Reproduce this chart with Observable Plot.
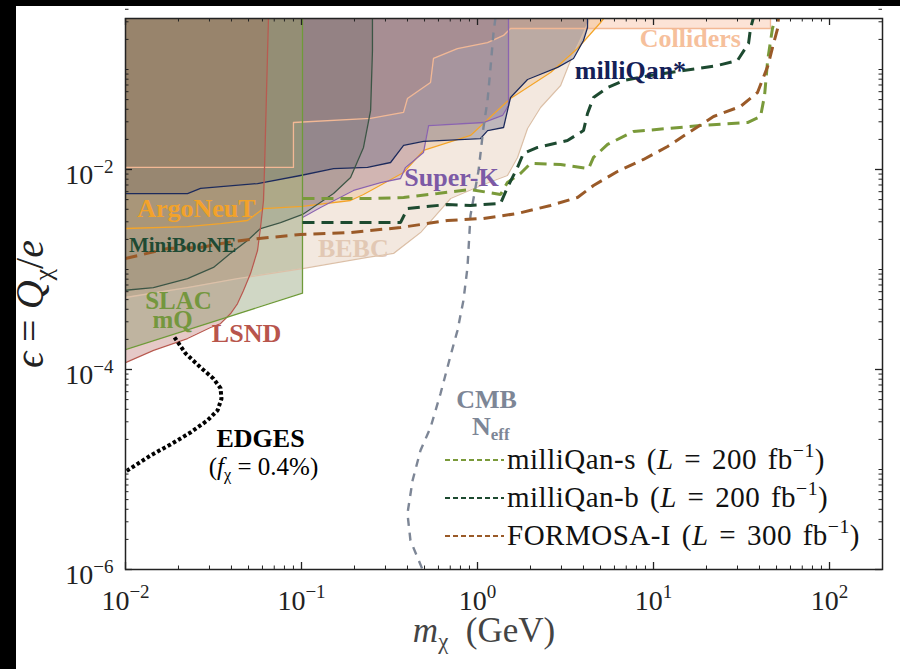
<!DOCTYPE html>
<html><head><meta charset="utf-8">
<script src="https://cdn.jsdelivr.net/npm/d3@7"></script>
<script src="https://cdn.jsdelivr.net/npm/@observablehq/plot@0.6"></script>
<style>
html,body{margin:0;padding:0;background:#000;width:900px;height:669px;overflow:hidden;}
#chart{position:absolute;left:16px;top:6px;width:884px;height:663px;background:#fff;}
svg text{font-family:"Liberation Serif",serif;}
</style></head><body><div id="chart"></div>
<script>
// ---------- data (m_chi in GeV, epsilon) ----------
const TOP = 0.34;
const colliders = [[0.01,0.0105],[0.090,0.0105],[0.090,0.0295],[0.2466,0.0324],[0.380,0.0372],[0.400,0.0513],[0.5408,0.0741],[0.5623,0.129],[0.7691,0.162],[1.14,0.186],[1.406,0.219],[1.54,0.257],[46.2,0.257],[46.2,TOP]];
const bebc = [[0.01,5.25e-4],[0.02249,6.6e-4],[0.04329,8.1e-4],[0.1013,1.02e-3],[0.2371,1.32e-3],[0.3334,1.45e-3],[0.4742,2.34e-3],[0.7031,5.13e-3],[1.081,7.08e-3],[1.479,8.71e-3],[1.687,0.0132],[1.923,0.0257],[2.28,0.0417],[2.965,0.0692],[3.374,0.123],[4.0,0.229],[4.385,TOP]];
const argoneut = [[0.01,0.00257],[0.02249,0.00269],[0.03467,0.00288],[0.04932,0.00309],[0.06081,0.00407],[0.1013,0.00427],[0.1898,0.0049],[0.2249,0.00562],[0.2924,0.00724],[0.38,0.00933],[0.4932,0.0155],[0.912,0.0219],[1.54,0.0513],[2.6,0.0933],[3.7,0.162],[5.0,0.295],[5.33,TOP]];
const superK = [[0.1013,0.00331],[0.1282,0.00417],[0.1974,0.00617],[0.2812,0.00741],[0.3652,0.00813],[0.3899,0.0105],[0.4932,0.0148],[0.5272,0.0275],[1.081,0.0295],[1.387,0.0347],[1.5,0.0437],[1.5,TOP]];
const milliqanDemo = [[0.01,0.00575],[0.02249,0.00575],[0.02668,0.00646],[0.05623,0.00724],[0.09863,0.00871],[0.152,0.0102],[0.2371,0.0105],[0.3206,0.01175],[0.38,0.0174],[0.4932,0.0191],[1.04,0.0204],[1.14,0.0245],[1.406,0.0263],[1.54,0.0525],[1.923,0.0794],[2.851,0.105],[3.51,0.129],[4.0,0.195],[4.217,0.263],[4.217,TOP]];
const miniboone = [[0.01,6.2e-4],[0.0144,6.6e-4],[0.0225,8.1e-4],[0.0316,1.05e-3],[0.0395,1.45e-3],[0.0493,1.95e-3],[0.0585,2.57e-3],[0.076,2.95e-3],[0.1014,3.55e-3],[0.152,5.75e-3],[0.19,8.3e-3],[0.225,0.0166],[0.247,0.039],[0.253,0.155],[0.253,TOP]];
const lsnd = [[0.01,1.17e-4],[0.01443,1.55e-4],[0.02249,2.04e-4],[0.0304,2.63e-4],[0.03467,2.88e-4],[0.03953,3.63e-4],[0.04329,4.57e-4],[0.0468,6.17e-4],[0.05129,9.1e-4],[0.05623,1.55e-3],[0.05848,2.63e-3],[0.06081,4.9e-3],[0.06166,0.0105],[0.06494,TOP]];
const slac = [[0.01,1.58e-4],[0.1013,5.8e-4],[0.1013,TOP]];

const milliqanS = [[0.1013,0.00513],[0.2466,0.00513],[0.38,0.00525],[0.5929,0.00575],[0.912,0.00631],[1.352,0.00562],[1.479,0.00741],[1.754,0.00912],[2.0,0.0115],[2.965,0.0112],[4.276,0.0102],[4.56,0.0132],[5.483,0.0178],[7.691,0.024],[12.02,0.0257],[18.49,0.0275],[34.2,0.0295],[40.55,0.0339],[42.76,0.055],[44.5,0.123],[47.4,0.257],[49.3,0.33]];
const milliqanB = [[0.1013,0.00295],[0.3652,0.00295],[0.4,0.00407],[0.6761,0.00447],[0.912,0.00437],[1.352,0.00457],[1.479,0.00661],[1.687,0.0105],[1.824,0.0145],[2.193,0.0166],[3.245,0.0195],[4.0,0.0245],[4.217,0.0363],[4.56,0.0525],[5.483,0.0661],[6.761,0.0776],[9.616,0.0871],[14.8,0.0977],[23.11,0.1096],[30.0,0.123],[34.67,0.182],[35.56,0.257],[36.98,0.33]];
const formosa = [[0.01,0.00129],[0.01733,0.00162],[0.02668,0.00166],[0.0411,0.00191],[0.05129,0.002],[0.09863,0.00224],[0.1898,0.00234],[0.3652,0.00263],[0.6761,0.00309],[1.081,0.00324],[1.687,0.00363],[2.6,0.00437],[3.7,0.00525],[4.56,0.00692],[6.237,0.00955],[8.77,0.0126],[12.02,0.017],[16.22,0.024],[21.93,0.0339],[31.19,0.0427],[39.0,0.0589],[44.5,0.107],[48.1,0.182],[50.7,0.257],[51.3,0.33]];
const cmb = [[1.265,0.33],[1.233,0.234],[1.186,0.105],[1.14,0.049],[1.081,0.0263],[1.014,0.00977],[0.912,0.00347],[0.877,0.00105],[0.8318,4.9e-4],[0.7691,2.45e-4],[0.7031,1.38e-4],[0.6166,5.75e-5],[0.5408,2.63e-5],[0.4742,1.55e-5],[0.4276,7.76e-6],[0.4,3.63e-6],[0.4159,1.95e-6],[0.487,1e-6]];
const edges = [[0.01898,2.1e-4],[0.02193,1.45e-4],[0.02668,1.05e-4],[0.03162,8.1e-5],[0.03467,6.5e-5],[0.0351,5.1e-5],[0.03334,3.9e-5],[0.02924,3.1e-5],[0.02339,2.34e-5],[0.01802,1.78e-5],[0.01387,1.38e-5],[0.01026,9.8e-6],[0.01,9.5e-6]];

const labelText = ["Colliders","milliQan*","Super-K","ArgoNeuT","MiniBooNE","BEBC","SLAC","mQ","LSND","EDGES","(~{f}_{χ} = 0.4%)","CMB","N_{eff}"];
const labelM   = [16.2, 7.4, 0.711, 0.0253, 0.0211, 0.197, 0.02, 0.0185, 0.0487, 0.0585, 0.0608, 1.125, 1.19];
const labelEps = [0.204, 0.0977, 0.0083, 0.00407, 0.00174, 0.00162, 4.85e-4, 3.1e-4, 2.29e-4, 2.04e-5, 1.07e-5, 5.0e-5, 2.7e-5];

const legendNames = ["milliQan-s (~{L} = 200 fb^{−1})","milliQan-b (~{L} = 200 fb^{−1})","FORMOSA-I (~{L} = 300 fb^{−1})"];

const xMajor = [0.01, 0.1, 1, 10, 100];
const yLabeled = [1e-6, 1e-4, 1e-2];
const xTickLabels = ["10^{−2}","10^{−1}","10^{0}","10^{1}","10^{2}"];
const yTickLabels = ["10^{−6}","10^{−4}","10^{−2}"];

// ---------- styles ----------
const W = 884, H = 663, mL = 109, mR = 18, mT = 12, mB = 100;
const innerW = W - mL - mR, innerH = H - mT - mB;
const FONT = "Liberation Serif";
const xMinor = [], yMinor = [];
for (let e = -2; e <= 2; e++) for (let k = 2; k <= 9; k++) { const v = k * 10 ** e; if (v <= 200) xMinor.push(v); }
for (let e = -6; e <= -1; e++) for (let k = 1; k <= 9; k++) { const v = k * 10 ** e; if (!(k === 1 && e % 2 === 0)) yMinor.push(v); }

const regions = [
  {data: bebc, fill: "#d8b494", op: 0.3, stroke: "#dcc0a8"},
  {data: colliders, fill: "#f5b08a", op: 0.35, stroke: "#f2b895"},
  {data: argoneut, fill: "#e8a050", op: 0.25, stroke: "#f4a428"},
  {data: superK, fill: "#8a6aa0", op: 0.3, stroke: "#8a64b0"},
  {data: milliqanDemo, fill: "#5a5a78", op: 0.35, stroke: "#1c2a5c"},
  {data: miniboone, fill: "#5a6058", op: 0.25, stroke: "#3c5545"},
  {data: lsnd, fill: "#b4645f", op: 0.35, stroke: "#b85a50"},
  {data: slac, fill: "#788c5a", op: 0.35, stroke: "#6f9a3a"}
];
const labelColor = ["#f6c09c","#142058","#7c5aa6","#f2a22a","#1e4a33","#e2c8b4","#74973e","#74973e","#b8554c","#000","#000","#7d8696","#7d8696"];
const labelSize = [26,26,26,26,21,26,25,25,26,26,25,26,26];
const labelWeight = ["bold","bold","bold","bold","bold","bold","bold","bold","bold","bold","normal","bold","bold"];
const legendColors = ["#7a9a3a","#1d4a30","#9a5a28"];

const X = d => d[0], Y = d => d[1];
const marks = [];
for (const r of regions) {
  marks.push(Plot.areaY(r.data, {x: X, y1: Y, y2: TOP, fill: r.fill, fillOpacity: r.op, clip: true}));
}
for (const r of regions) {
  marks.push(Plot.line(r.data, {x: X, y: Y, stroke: r.stroke, strokeWidth: 1.3, clip: true}));
}
const dash = "12,7";
const dl = {strokeLinecap: "butt", strokeLinejoin: "miter", clip: true};
marks.push(Plot.line(cmb, {x: X, y: Y, stroke: "#7d8696", strokeWidth: 2.4, strokeDasharray: "8,7", ...dl}));
marks.push(Plot.line(milliqanS, {x: X, y: Y, stroke: "#7a9a3a", strokeWidth: 3, strokeDasharray: dash, ...dl}));
marks.push(Plot.line(milliqanB, {x: X, y: Y, stroke: "#1d4a30", strokeWidth: 3, strokeDasharray: dash, ...dl}));
marks.push(Plot.line(formosa, {x: X, y: Y, stroke: "#9a5a28", strokeWidth: 3, strokeDasharray: dash, ...dl}));
marks.push(Plot.line(edges, {x: X, y: Y, stroke: "#000", strokeWidth: 4, strokeDasharray: "3.5,2.5", ...dl}));
labelText.forEach((t, i) => {
  marks.push(Plot.text([i], {x: i => labelM[i], y: i => labelEps[i], text: i => labelText[i], fill: labelColor[i], fontSize: labelSize[i], fontWeight: labelWeight[i], fontFamily: FONT}));
});
// ticks (inward, on all four sides)
const tk = "#222";
marks.push(Plot.tickX(xMajor, {x: d => d, insetTop: innerH - 7, stroke: tk, strokeWidth: 1.3}));
marks.push(Plot.tickX(xMajor, {x: d => d, insetBottom: innerH - 7, stroke: tk, strokeWidth: 1.3}));
marks.push(Plot.tickX(xMinor, {x: d => d, insetTop: innerH - 3.5, stroke: tk, strokeWidth: 1}));
marks.push(Plot.tickX(xMinor, {x: d => d, insetBottom: innerH - 3.5, stroke: tk, strokeWidth: 1}));
marks.push(Plot.tickY(yLabeled, {y: d => d, insetRight: innerW - 7, stroke: tk, strokeWidth: 1.3}));
marks.push(Plot.tickY(yLabeled, {y: d => d, insetLeft: innerW - 7, stroke: tk, strokeWidth: 1.3}));
marks.push(Plot.tickY(yMinor, {y: d => d, insetRight: innerW - 3.5, stroke: tk, strokeWidth: 1}));
marks.push(Plot.tickY(yMinor, {y: d => d, insetLeft: innerW - 3.5, stroke: tk, strokeWidth: 1}));
marks.push(Plot.frame({stroke: "#222", strokeWidth: 1.5}));
// tick labels
marks.push(Plot.text(xMajor, {x: d => d, frameAnchor: "bottom", dy: 40, text: (d, i) => xTickLabels[i], fontSize: 28, fill: "#222", fontFamily: FONT}));
marks.push(Plot.text(yLabeled, {y: d => d, frameAnchor: "left", dx: -12, dy: 6, textAnchor: "end", text: (d, i) => yTickLabels[i], fontSize: 28, fill: "#222", fontFamily: FONT}));
// axis titles
marks.push(Plot.text(["~{m}_{χ}\u00a0\u00a0(GeV)"], {frameAnchor: "bottom", textAnchor: "middle", dx: -20, dy: 72, text: d => d, fontSize: 35, fill: "#444", fontFamily: FONT}));
marks.push(Plot.text(["~{ϵ}\u00a0=\u00a0~{Q}_{χ}/~{e}"], {frameAnchor: "left", textAnchor: "middle", dx: -95, dy: 10, rotate: -90, text: d => d, fontSize: 40, fill: "#222", fontFamily: FONT}));

const svg = Plot.plot({
  width: W, height: H,
  marginLeft: mL, marginRight: mR, marginTop: mT, marginBottom: mB,
  x: {type: "log", domain: [0.01, 200], axis: null},
  y: {type: "log", domain: [1e-6, 0.3236], axis: null},
  style: {fontFamily: FONT, background: "#fff", overflow: "visible"},
  marks
});
document.getElementById("chart").appendChild(svg);

// legend (pixel layout inside the frame)
const NS = "http://www.w3.org/2000/svg";
const lg = d3.select(svg).append("g").attr("font-family", FONT).attr("font-size", 29).attr("text-anchor", "start");
legendNames.forEach((name, i) => {
  const yy = 454 + i * 38;
  lg.append("line").attr("x1", 429).attr("x2", 488).attr("y1", yy).attr("y2", yy)
    .attr("stroke", legendColors[i]).attr("stroke-width", 2).attr("stroke-dasharray", "5,3");
  lg.append("text").attr("x", 491).attr("y", yy + 9).attr("fill", "#111")
    .attr("letter-spacing", 0.5).attr("word-spacing", 3).text(name);
});

// rich text: ^{sup} _{sub} ~{italic}
function richify(el) {
  const raw = el.textContent;
  if (!/[\^_~]\{/.test(raw)) return;
  const fs = parseFloat(getComputedStyle(el).fontSize) || 16;
  const parts = raw.split(/([\^_~]\{[^}]*\})/).filter(s => s.length);
  while (el.firstChild) el.removeChild(el.firstChild);
  let shift = 0;
  for (const p of parts) {
    const t = document.createElementNS(NS, "tspan");
    let target = 0, content = p;
    const m = p.match(/^([\^_~])\{([^}]*)\}$/);
    if (m) {
      content = m[2];
      if (m[1] === "^") { target = -0.42 * fs; t.setAttribute("font-size", 0.68 * fs); }
      else if (m[1] === "_") { target = 0.22 * fs; t.setAttribute("font-size", 0.65 * fs); }
      else { t.setAttribute("font-style", "italic"); }
    }
    if (target !== shift) { t.setAttribute("dy", target - shift); shift = target; }
    t.textContent = content;
    el.appendChild(t);
  }
}
svg.querySelectorAll("text").forEach(richify);
</script></body></html>
